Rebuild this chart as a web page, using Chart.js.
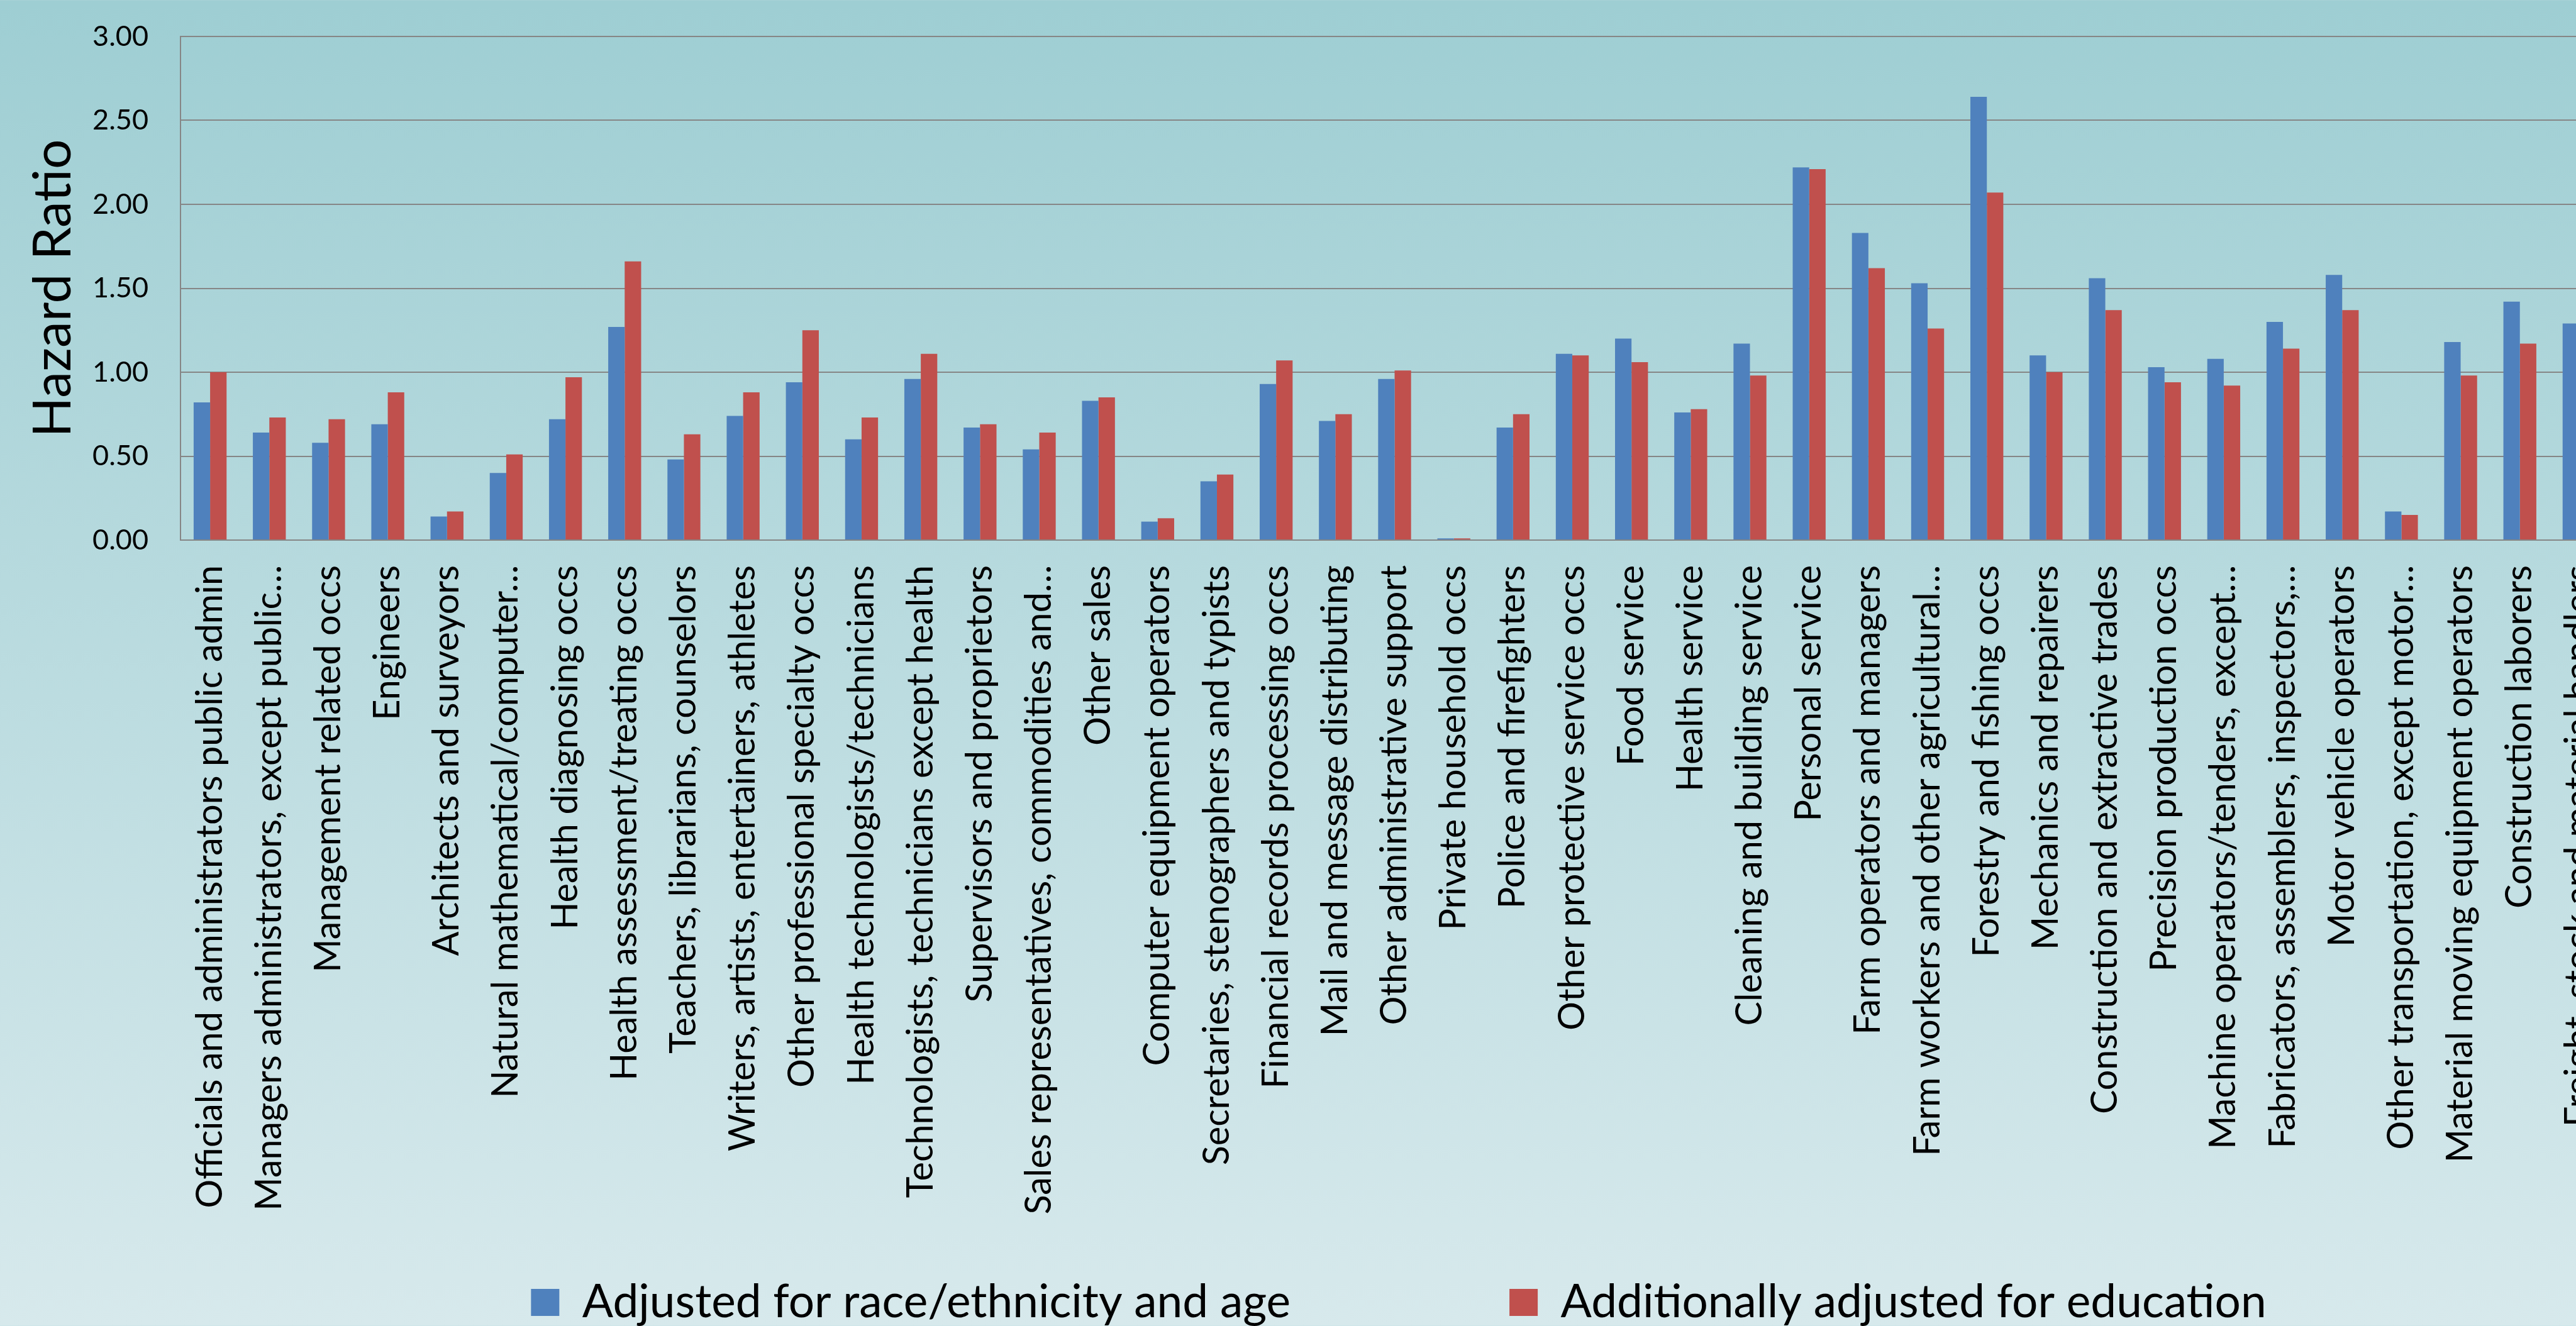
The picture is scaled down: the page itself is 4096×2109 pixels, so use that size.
<!DOCTYPE html>
<html>
<head>
<meta charset="utf-8">
<script src="https://cdn.jsdelivr.net/npm/chart.js@4.4.1/dist/chart.umd.min.js"></script>
<style>
  html, body { margin: 0; padding: 0; overflow: hidden; width: 4096px; height: 2109px; }
  body { background: linear-gradient(to bottom, rgb(158,206,211), rgb(215,233,236)); }
  #wrap { position: absolute; left: 0; top: 0; width: 4448px; height: 2118px; }
</style>
</head>
<body>
<div id="wrap"><canvas id="chart" width="4448" height="2118"></canvas></div>
<script>
const occupations = [
  "Officials and administrators public admin",
  "Managers administrators, except public…",
  "Management related occs",
  "Engineers",
  "Architects and surveyors",
  "Natural mathematical/computer…",
  "Health diagnosing occs",
  "Health assessment/treating occs",
  "Teachers, librarians, counselors",
  "Writers, artists, entertainers, athletes",
  "Other professional specialty occs",
  "Health technologists/technicians",
  "Technologists, technicians except health",
  "Supervisors and proprietors",
  "Sales representatives, commodities and…",
  "Other sales",
  "Computer equipment operators",
  "Secretaries, stenographers and typists",
  "Financial records processing occs",
  "Mail and message distributing",
  "Other administrative support",
  "Private household occs",
  "Police and firefighters",
  "Other protective service occs",
  "Food service",
  "Health service",
  "Cleaning and building service",
  "Personal service",
  "Farm operators and managers",
  "Farm workers and other agricultural…",
  "Forestry and fishing occs",
  "Mechanics and repairers",
  "Construction and extractive trades",
  "Precision production occs",
  "Machine operators/tenders, except…",
  "Fabricators, assemblers, inspectors,…",
  "Motor vehicle operators",
  "Other transportation, except motor…",
  "Material moving equipment operators",
  "Construction laborers",
  "Freight, stock and material handlers"
];

const adjustedRaceAge = [
  0.82, 0.64, 0.58, 0.69, 0.14, 0.40, 0.72, 1.27, 0.48, 0.74,
  0.94, 0.60, 0.96, 0.67, 0.54, 0.83, 0.11, 0.35, 0.93, 0.71,
  0.96, 0.01, 0.67, 1.11, 1.20, 0.76, 1.17, 2.22, 1.83, 1.53,
  2.64, 1.10, 1.56, 1.03, 1.08, 1.30, 1.58, 0.17, 1.18, 1.42, 1.29
];

const adjustedEducation = [
  1.00, 0.73, 0.72, 0.88, 0.17, 0.51, 0.97, 1.66, 0.63, 0.88,
  1.25, 0.73, 1.11, 0.69, 0.64, 0.85, 0.13, 0.39, 1.07, 0.75,
  1.01, 0.01, 0.75, 1.10, 1.06, 0.78, 0.98, 2.21, 1.62, 1.26,
  2.07, 1.00, 1.37, 0.94, 0.92, 1.14, 1.37, 0.15, 0.98, 1.17, null
];

const seriesNames = ["Adjusted for race/ethnicity and age", "Additionally adjusted for education"];

// layout (px, already at 0.987 of the reference)
const PLOT_LEFT = 287;
const PLOT_TOP = 58;
const PLOT_BOTTOM = 859;
const RIGHT_GAP = 300;
const LEGEND_FONT = 73;
const LEGEND_GAP = 348;
const CANVAS_H = 2118;

Chart.defaults.font.family = "Lato, sans-serif";
Chart.defaults.color = "#000";

let ctx = document.getElementById("chart").getContext("2d");
let chart = new Chart(ctx, {
  type: "bar",
  data: {
    labels: occupations,
    datasets: [
      {
        label: seriesNames[0],
        data: adjustedRaceAge,
        backgroundColor: "#4F81BD",
        borderWidth: 0,
        categoryPercentage: 0.556,
        barPercentage: 1,
      },
      {
        label: seriesNames[1],
        data: adjustedEducation,
        backgroundColor: "#C0504D",
        borderWidth: 0,
        categoryPercentage: 0.556,
        barPercentage: 1,
      },
    ],
  },
  options: {
    responsive: false,
    animation: false,
    devicePixelRatio: 1,
    layout: { padding: { top: PLOT_TOP, left: 0, right: 0, bottom: 0 } },
    plugins: {
      legend: {
        position: "bottom",
        labels: {
          font: { size: LEGEND_FONT },
          boxWidth: 45,
          boxHeight: 43,
          padding: LEGEND_GAP,
          color: "#000",
        },
      },
      tooltip: { enabled: false },
    },
    scales: {
      x: {
        grid: { display: false, drawTicks: false },
        border: { display: true, color: "#868686", width: 2 },
        ticks: {
          autoSkip: false,
          maxRotation: 90,
          minRotation: 90,
          padding: 40,
          font: { size: 57.5 },
          color: "#000",
        },
        afterFit: (s) => {
          s.height = CANVAS_H - PLOT_BOTTOM - (LEGEND_FONT + LEGEND_GAP + 10);
          // long labels run down into the empty top part of the legend box
          s._computeLabelArea = () => null;
        },
      },
      y: {
        min: 0,
        max: 3,
        ticks: {
          stepSize: 0.5,
          padding: 0,
          font: { size: 45 },
          color: "#000",
          callback: (v) => v.toFixed(2),
        },
        grid: {
          color: "#868686",
          lineWidth: 2,
          drawTicks: true,
          tickLength: 51,
          tickColor: "rgba(0,0,0,0)",
        },
        border: { display: true, color: "#868686", width: 2 },
        title: {
          display: true,
          text: "Hazard Ratio",
          font: { size: 84 },
          color: "#000",
          padding: { top: 35, bottom: 0 },
        },
        afterFit: (s) => {
          s.width = PLOT_LEFT;
        },
      },
      yRight: {
        position: "right",
        grid: { display: false, drawTicks: false },
        border: { display: false },
        ticks: { display: false },
        afterFit: (s) => {
          s.width = RIGHT_GAP;
        },
      },
    },
  },
});
</script>
</body>
</html>
